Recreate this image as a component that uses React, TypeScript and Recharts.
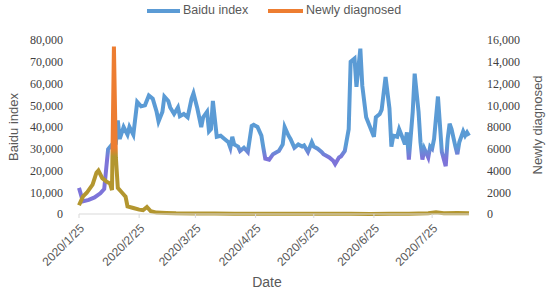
import React from 'react';
import { LineChart, Line, XAxis, YAxis, Legend } from 'recharts';

// Days counted from 2020/1/25
const baiduDays = [
  0, 2, 5, 8, 11, 13, 15, 17, 19, 20, 21, 23, 25, 26, 28, 30, 32, 34, 36, 38,
  40, 41, 43, 44, 46, 47, 49, 51, 52, 54, 56, 58, 59, 61, 63, 64, 66, 67, 68, 69,
  71, 73, 75, 77, 78, 79, 80, 82, 83, 85, 87, 89, 90, 92, 94, 95, 96, 98, 100, 102,
  103, 105, 106, 108, 109, 111, 113, 115, 116, 118, 120, 121, 123, 125, 126, 127, 129, 131, 132, 134,
  135, 137, 139, 140, 142, 143, 145, 146, 148, 150, 152, 153, 155, 156, 158, 160, 161, 162, 164, 165,
  167, 168, 169, 170, 172, 173, 175, 176, 177, 178, 180, 181, 182, 183, 185, 187, 189, 190, 191, 192,
  194, 195, 196, 198, 199, 200, 201,
];
const baiduValues = [
  12000, 5800, 6500, 7600, 9500, 11500, 29800, 32000, 32500, 43000, 34500, 40000, 36500, 40000, 36500, 51500, 49500, 50000, 54500, 53000,
  47000, 42500, 47000, 54000, 52000, 49000, 46000, 49000, 45000, 46000, 44500, 53000, 55500, 48500, 40000, 44500, 47000, 38000, 39000, 52000,
  35500, 36000, 34500, 33000, 30500, 35500, 32000, 31000, 29000, 30500, 28500, 40500, 41000, 40000, 36000, 30500, 25500, 25000, 27500, 28500,
  29000, 32000, 40000, 36000, 34500, 30500, 32000, 31000, 31500, 28500, 33000, 31000, 30000, 28500, 27500, 27000, 26000, 24500, 23000, 26000,
  26500, 29000, 39000, 70000, 71500, 58500, 76000, 59000, 44500, 40000, 35500, 44500, 46000, 48000, 63000, 48500, 31000, 36000, 35500, 39000,
  34500, 32000, 37500, 25000, 47000, 64500, 47000, 33000, 25000, 30000, 26000, 31000, 30000, 34500, 54000, 28500, 22000, 34500, 41500, 39000,
  31000, 27500, 33000, 38000, 36000, 37500, 36000,
];

const caseDays = [
  0, 2, 4, 7, 9, 10, 12, 14, 16, 17, 18, 19, 20, 22, 24, 25, 28, 31, 33, 35,
  37, 40, 45, 50, 60, 70, 80, 90, 100, 110, 120, 130, 140, 150, 160, 170, 180, 184, 188, 195, 201,
];
const caseValues = [
  800, 1600, 1950, 2700, 3800, 4000, 3300, 3000, 2800, 2200, 15400, 5200, 2400, 2000, 1600, 700, 550, 400, 350, 650,
  250, 130, 100, 60, 40, 50, 30, 20, 30, 20, 15, 20, 15, 10, 20, 30, 60, 150, 80, 100, 60,
];

const dateTicks = [0, 31, 60, 91, 121, 152, 182];
const dateLabels = ['2020/1/25', '2020/2/25', '2020/3/25', '2020/4/25', '2020/5/25', '2020/6/25', '2020/7/25'];
const leftTicks = [0, 10000, 20000, 30000, 40000, 50000, 60000, 70000, 80000];
const rightTicks = [0, 2000, 4000, 6000, 8000, 10000, 12000, 14000, 16000];

const baiduData = baiduDays.map((day, i) => ({ day, baidu: baiduValues[i] }));
const caseData = caseDays.map((day, i) => ({ day, cases: caseValues[i] }));

const BLUE = '#5B9BD5';
const ORANGE = '#ED7D31';
const SANS = '"Liberation Sans", Arial, sans-serif';
const SERIF = '"Liberation Serif", "Times New Roman", serif';

const DateTick = ({ x, y, payload }: any) => {
  const idx = dateTicks.indexOf(payload.value);
  return (
    <text
      transform={`translate(${x + 3},${y + 6}) rotate(-45)`}
      textAnchor="end"
      dy="0.35em"
      fontFamily={SANS}
      fontSize={12}
      fill="#595959"
    >
      {dateLabels[idx]}
    </text>
  );
};

const renderLegend = () => (
  <div style={{ position: 'relative', width: 550, height: 22, fontFamily: SANS, fontSize: 12.5, color: '#595959' }}>
    <span style={{ position: 'absolute', left: 147, top: 9, width: 33, height: 4, background: BLUE }} />
    <span style={{ position: 'absolute', left: 183, top: 3, whiteSpace: 'nowrap' }}>Baidu index</span>
    <span style={{ position: 'absolute', left: 268, top: 9, width: 35, height: 4, background: ORANGE }} />
    <span style={{ position: 'absolute', left: 306, top: 3, whiteSpace: 'nowrap' }}>Newly diagnosed</span>
  </div>
);

export default function App() {
  return (
    <div style={{ position: 'absolute', left: 0, top: 0, width: 550, height: 291, background: '#fff' }}>
      <LineChart width={550} height={291} margin={{ top: 40, right: 0, bottom: 0, left: 0 }}>
        <defs>
          <linearGradient id="blueGrad" gradientUnits="userSpaceOnUse" x1="0" y1="40" x2="0" y2="214">
            <stop offset="0%" stopColor={BLUE} />
            <stop offset="61%" stopColor={BLUE} />
            <stop offset="68%" stopColor="#7D74D9" />
            <stop offset="100%" stopColor="#7D74D9" />
          </linearGradient>
          <linearGradient id="orangeGrad" gradientUnits="userSpaceOnUse" x1="0" y1="40" x2="0" y2="214">
            <stop offset="0%" stopColor={ORANGE} />
            <stop offset="62%" stopColor={ORANGE} />
            <stop offset="67%" stopColor="#B3962F" />
            <stop offset="100%" stopColor="#B3962F" />
          </linearGradient>
        </defs>
        <XAxis
          dataKey="day"
          type="number"
          domain={[0, 201]}
          ticks={dateTicks}
          height={77}
          axisLine={{ stroke: '#d9d9d9' }}
          tickLine={{ stroke: '#d9d9d9' }}
          tickSize={4}
          tick={<DateTick />}
          interval={0}
          label={() => (
            <text x={267} y={287} textAnchor="middle" fontFamily={SANS} fontSize={14} fill="#595959">
              Date
            </text>
          )}
        />
        <YAxis
          yAxisId="left"
          domain={[0, 80000]}
          ticks={leftTicks}
          width={79}
          axisLine={false}
          tickLine={false}
          tickMargin={10}
          tick={{ fontFamily: SERIF, fontSize: 12, fill: '#404040' }}
          tickFormatter={(v: number) => v.toLocaleString('en-US')}
          label={() => (
            <text
              transform="translate(18,127) rotate(-90)"
              textAnchor="middle"
              fontFamily={SANS}
              fontSize={13}
              fill="#595959"
            >
              Baidu index
            </text>
          )}
        />
        <YAxis
          yAxisId="right"
          orientation="right"
          domain={[0, 16000]}
          ticks={rightTicks}
          width={81}
          axisLine={false}
          tickLine={false}
          tickMargin={12}
          tick={{ fontFamily: SERIF, fontSize: 12, fill: '#404040' }}
          tickFormatter={(v: number) => (v >= 10000 ? v.toLocaleString('en-US') : String(v))}
          label={() => (
            <text
              transform="translate(542,125) rotate(-90)"
              textAnchor="middle"
              fontFamily={SANS}
              fontSize={13}
              fill="#595959"
            >
              Newly diagnosed
            </text>
          )}
        />
        <Legend verticalAlign="middle" align="center" wrapperStyle={{ top: 0, left: 0, width: 550 }} content={renderLegend} />
        <Line
          yAxisId="left"
          data={baiduData}
          dataKey="baidu"
          name="Baidu index"
          type="linear"
          stroke="url(#blueGrad)"
          strokeWidth={4}
          dot={false}
          isAnimationActive={false}
        />
        <Line
          yAxisId="right"
          data={caseData}
          dataKey="cases"
          name="Newly diagnosed"
          type="linear"
          stroke="url(#orangeGrad)"
          strokeWidth={4}
          dot={false}
          isAnimationActive={false}
        />
      </LineChart>
    </div>
  );
}
